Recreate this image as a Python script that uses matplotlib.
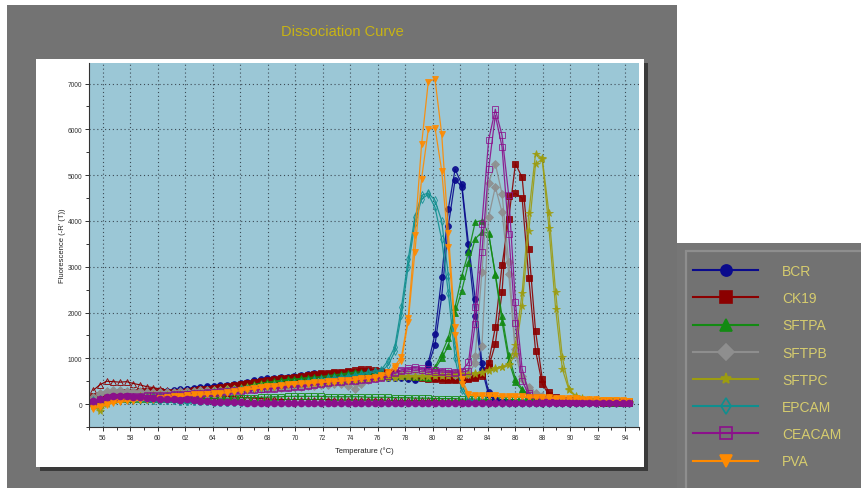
import numpy as np
import matplotlib
matplotlib.use("Agg")
import matplotlib.pyplot as plt
from matplotlib.patches import Rectangle
from matplotlib.lines import Line2D

plt.rcParams["font.family"] = ["Liberation Sans", "DejaVu Sans"]

# melt temperatures, one reading every ~0.49 degC
temps = np.linspace(55.3, 94.3, 81)

# -R'(T) readings per well
bcr_1 = [
    60, 90, 120, 150, 170, 190, 210, 230, 250, 270,
    280, 290, 300, 320, 340, 360, 380, 390, 400, 410,
    420, 440, 460, 490, 520, 540, 560, 580, 590, 600,
    620, 640, 660, 690, 650, 620, 640, 650, 660, 640,
    650, 660, 640, 620, 610, 600, 590, 560, 550, 650,
    900, 1530, 2770, 4270, 5130, 4800, 3500, 2300, 900, 270,
    120, 60, 40, 30, 30, 20, 20, 20, 20, 20,
    20, 20, 20, 20, 20, 20, 20, 20, 20, 20, 20]
bcr_2 = [
    40, 70, 100, 130, 150, 170, 190, 210, 230, 250,
    260, 270, 280, 300, 320, 340, 350, 370, 380, 390,
    400, 420, 440, 470, 500, 510, 530, 550, 560, 580,
    600, 610, 630, 640, 620, 600, 610, 620, 630, 610,
    620, 630, 610, 590, 580, 570, 560, 540, 530, 600,
    850, 1290, 2350, 3900, 4900, 4750, 3320, 1930, 770, 200,
    80, 40, 30, 20, 20, 20, 20, 20, 20, 20,
    20, 20, 20, 20, 20, 20, 20, 20, 20, 20, 20]
ck19_1 = [
    150, 200, 230, 250, 260, 270, 270, 280, 280, 280,
    280, 270, 260, 270, 280, 300, 320, 340, 360, 380,
    400, 420, 440, 460, 480, 500, 520, 540, 560, 580,
    600, 620, 640, 660, 680, 690, 700, 710, 730, 740,
    760, 770, 740, 720, 700, 680, 660, 640, 620, 600,
    580, 570, 560, 550, 550, 560, 570, 600, 650, 900,
    1680, 3030, 4050, 5250, 4950, 3390, 1600, 550, 255, 150,
    100, 80, 70, 60, 50, 50, 40, 40, 40, 30, 30]
ck19_2 = [
    120, 160, 200, 220, 230, 240, 240, 250, 250, 250,
    250, 250, 240, 250, 260, 280, 300, 320, 340, 360,
    380, 400, 420, 440, 460, 480, 500, 520, 540, 560,
    580, 600, 610, 630, 650, 660, 670, 690, 700, 710,
    720, 730, 710, 690, 670, 650, 630, 610, 590, 570,
    550, 540, 530, 520, 520, 530, 540, 560, 620, 800,
    1310, 2440, 4550, 4600, 4500, 2750, 1170, 440, 200, 120,
    80, 60, 50, 50, 40, 40, 30, 30, 30, 30, 30]
sftpa_1 = [
    30, 80, 120, 150, 170, 180, 190, 200, 200, 210,
    210, 220, 230, 240, 250, 260, 280, 290, 300, 310,
    330, 350, 370, 400, 430, 460, 480, 500, 520, 540,
    550, 560, 580, 590, 600, 620, 640, 660, 680, 700,
    700, 690, 680, 680, 670, 660, 650, 640, 620, 600,
    600, 800, 1100, 1450, 2120, 2800, 3320, 3975, 4010, 3720,
    2845, 1930, 1070, 550, 330, 200, 150, 120, 100, 90,
    80, 70, 60, 60, 50, 50, 40, 40, 40, 30, 30]
sftpa_2 = [
    20, 60, 100, 130, 150, 160, 170, 180, 180, 190,
    190, 200, 210, 220, 230, 240, 260, 270, 280, 290,
    310, 330, 350, 380, 410, 440, 460, 480, 500, 520,
    530, 540, 560, 570, 580, 600, 620, 640, 650, 670,
    670, 660, 650, 650, 640, 630, 620, 610, 600, 590,
    580, 770, 1000, 1270, 2000, 2480, 3085, 3610, 3757, 3735,
    2820, 1800, 950, 480, 300, 180, 130, 100, 90, 80,
    70, 60, 50, 50, 40, 40, 40, 30, 30, 30, 30]
sftpb_1 = [
    150, 250, 290, 300, 300, 290, 280, 280, 270, 270,
    270, 270, 270, 280, 280, 290, 300, 300, 310, 310,
    320, 330, 340, 340, 350, 360, 370, 380, 390, 400,
    400, 410, 420, 430, 440, 450, 460, 470, 400, 330,
    450, 550, 600, 620, 640, 650, 660, 670, 680, 680,
    690, 700, 700, 690, 680, 670, 700, 1060, 2880, 4835,
    5250, 4595, 3100, 1200, 620, 365, 250, 180, 140, 120,
    100, 90, 80, 70, 60, 60, 50, 50, 50, 40, 40]
sftpb_2 = [
    120, 220, 260, 270, 270, 260, 250, 250, 240, 240,
    240, 240, 240, 250, 250, 260, 270, 270, 280, 280,
    290, 300, 310, 310, 320, 330, 340, 350, 360, 370,
    370, 380, 390, 400, 410, 420, 430, 440, 450, 460,
    480, 520, 560, 590, 610, 620, 630, 640, 650, 650,
    660, 660, 660, 650, 640, 640, 660, 900, 1260, 4085,
    4740, 4195, 2845, 1100, 550, 330, 220, 160, 130, 110,
    90, 80, 70, 60, 60, 50, 50, 40, 40, 40, 40]
sftpc_1 = [
    -50, -150, 0, 80, 120, 150, 160, 170, 180, 190,
    200, 200, 210, 220, 230, 240, 250, 260, 280, 300,
    320, 340, 360, 380, 400, 410, 420, 430, 440, 450,
    460, 470, 480, 490, 500, 510, 520, 530, 540, 550,
    560, 570, 580, 590, 600, 600, 610, 610, 620, 620,
    620, 630, 630, 640, 650, 650, 660, 680, 700, 740,
    780, 820, 875, 1300, 2430, 4170, 5470, 5375, 4170, 2445,
    1020, 330, 180, 130, 100, 80, 70, 60, 60, 50, 50]
sftpc_2 = [
    -30, -100, 20, 90, 130, 150, 160, 170, 180, 190,
    190, 190, 200, 210, 220, 230, 240, 250, 270, 290,
    300, 320, 340, 360, 380, 390, 400, 410, 420, 430,
    440, 450, 460, 470, 480, 490, 500, 510, 520, 530,
    540, 550, 560, 570, 580, 580, 590, 590, 600, 600,
    600, 610, 610, 620, 630, 630, 640, 660, 680, 720,
    760, 800, 850, 1090, 2150, 3790, 5240, 5350, 3845, 2080,
    766, 300, 160, 120, 90, 70, 60, 50, 50, 40, 40]
epcam_1 = [
    80, 120, 140, 150, 150, 150, 150, 160, 160, 170,
    170, 180, 190, 200, 210, 220, 230, 250, 260, 270,
    290, 300, 320, 340, 360, 380, 400, 420, 430, 450,
    460, 480, 500, 520, 540, 560, 580, 600, 620, 640,
    660, 700, 730, 750, 950, 1250, 2120, 3160, 4085, 4560,
    4610, 4450, 4000, 2800, 1300, 400, 120, 60, 50, 40,
    40, 40, 40, 40, 40, 40, 40, 30, 30, 30,
    30, 30, 30, 30, 30, 30, 30, 30, 30, 30, 30]
epcam_2 = [
    60, 100, 120, 130, 130, 130, 130, 140, 140, 150,
    150, 160, 170, 180, 190, 200, 210, 230, 240, 250,
    270, 280, 300, 320, 340, 360, 380, 400, 410, 430,
    440, 460, 480, 500, 520, 540, 560, 580, 600, 620,
    640, 670, 700, 720, 850, 1150, 1950, 3000, 3950, 4480,
    4580, 4300, 3600, 2420, 1000, 300, 100, 50, 40, 40,
    30, 30, 30, 30, 30, 30, 30, 30, 30, 30,
    30, 30, 30, 30, 30, 30, 30, 30, 30, 30, 30]
ceacam_1 = [
    40, 90, 130, 150, 160, 170, 180, 180, 190, 190,
    200, 200, 210, 220, 230, 240, 250, 260, 270, 280,
    290, 300, 310, 320, 330, 340, 350, 360, 370, 380,
    390, 400, 420, 440, 460, 480, 500, 510, 520, 530,
    540, 550, 560, 600, 650, 700, 750, 780, 800, 780,
    760, 740, 730, 720, 700, 720, 910, 2115, 3940, 5760,
    6440, 5870, 4560, 2225, 770, 250, 150, 120, 100, 90,
    80, 70, 60, 60, 50, 50, 50, 40, 40, 40, 40]
ceacam_2 = [
    30, 70, 110, 130, 140, 150, 160, 160, 170, 170,
    180, 180, 190, 200, 210, 220, 230, 240, 250, 260,
    270, 280, 290, 300, 310, 320, 330, 340, 350, 360,
    370, 380, 400, 420, 440, 460, 480, 490, 500, 510,
    520, 530, 540, 580, 620, 670, 720, 750, 770, 750,
    720, 710, 700, 690, 680, 700, 730, 1750, 3320, 5130,
    6310, 5620, 3720, 1770, 510, 200, 130, 100, 90, 80,
    70, 60, 60, 50, 50, 40, 40, 40, 40, 30, 30]
pva_1 = [
    -80, -40, 0, 40, 60, 80, 90, 100, 110, 120,
    140, 150, 170, 180, 200, 210, 220, 230, 240, 250,
    270, 290, 310, 330, 350, 370, 390, 400, 420, 440,
    450, 460, 470, 480, 490, 500, 510, 520, 530, 540,
    560, 580, 600, 630, 700, 830, 1030, 1880, 3700, 5670,
    7040, 7100, 5900, 3735, 1680, 550, 220, 200, 200, 190,
    190, 180, 180, 170, 170, 160, 160, 150, 150, 140,
    140, 130, 130, 120, 120, 110, 100, 100, 90, 80, 70]
pva_2 = [
    -100, -60, -20, 20, 40, 60, 70, 80, 90, 100,
    120, 130, 150, 160, 180, 190, 200, 210, 220, 230,
    250, 270, 290, 310, 330, 350, 370, 380, 400, 420,
    430, 440, 450, 460, 470, 480, 490, 500, 510, 520,
    540, 560, 580, 610, 650, 780, 950, 1800, 3320, 4920,
    6000, 6040, 5100, 3435, 1500, 450, 200, 180, 180, 170,
    170, 160, 160, 150, 150, 140, 140, 130, 130, 120,
    120, 110, 110, 100, 100, 90, 90, 80, 80, 70, 60]

# no-template wells
ntc_purple = [
    60, 110, 150, 170, 180, 170, 160, 150, 140, 130,
    120, 110, 110, 100, 110, 90, 70, 60, 50, 40,
    40, 40, 40, 30, 30, 30, 30, 30, 30, 30,
    30, 30, 30, 30, 30, 30, 30, 30, 30, 30,
    30, 30, 30, 30, 30, 30, 30, 30, 30, 30,
    20, 20, 20, 20, 20, 20, 20, 20, 20, 20,
    20, 20, 20, 20, 20, 20, 20, 20, 20, 20,
    20, 20, 20, 20, 20, 20, 20, 20, 20, 20, 20]
ntc_teal = [
    0, 40, 70, 90, 100, 100, 90, 80, 80, 70,
    70, 60, 60, 50, 50, 40, 40, 40, 30, 30,
    30, 30, 30, 30, 30, 30, 30, 30, 30, 30,
    30, 30, 30, 30, 30, 30, 30, 30, 30, 30,
    30, 30, 30, 30, 30, 30, 30, 30, 30, 30,
    20, 20, 20, 20, 20, 20, 20, 20, 20, 20,
    20, 20, 20, 20, 20, 20, 20, 20, 20, 20,
    20, 20, 20, 20, 20, 20, 20, 20, 20, 20, 20]
ntc_green = [
    40, 70, 90, 100, 110, 110, 110, 110, 110, 110,
    110, 110, 110, 110, 120, 120, 120, 120, 130, 130,
    130, 130, 140, 140, 140, 150, 150, 160, 160, 170,
    170, 170, 170, 170, 170, 160, 160, 160, 160, 160,
    160, 150, 150, 150, 150, 140, 140, 140, 130, 130,
    130, 120, 120, 120, 120, 110, 110, 110, 110, 100,
    100, 100, 100, 100, 90, 90, 90, 90, 90, 80,
    80, 80, 80, 80, 70, 70, 70, 70, 60, 60, 60]
ntc_red = [
    300, 420, 500, 490, 480, 490, 450, 420, 380, 360,
    330, 310, 290, 270, 250, 230, 210, 200, 190, 180,
    170, 160, 150, 140, 130, 120, 110, 110, 100, 100,
    100, 100, 100, 100, 100, 100, 90, 90, 90, 90,
    90, 90, 90, 90, 80, 80, 80, 80, 80, 80,
    80, 80, 70, 70, 70, 70, 70, 70, 70, 70,
    60, 60, 60, 60, 60, 60, 60, 60, 60, 60,
    50, 50, 50, 50, 50, 50, 50, 50, 50, 50, 50]

genes = ["BCR", "CK19", "SFTPA", "SFTPB", "SFTPC", "EPCAM", "CEACAM", "PVA"]
colors = ["#0a0a8c", "#8b0000", "#138a13", "#8e8e8e", "#9c9c10", "#0f8f8f", "#8b108b", "#ff8a00"]
markers = ["o", "s", "^", "D", "*", "d", "s", "v"]
hollow = [False, False, False, False, False, True, True, False]
wells = [[bcr_1, bcr_2], [ck19_1, ck19_2], [sftpa_1, sftpa_2], [sftpb_1, sftpb_2],
         [sftpc_1, sftpc_2], [epcam_1, epcam_2], [ceacam_1, ceacam_2], [pva_1, pva_2]]

W, H = 862, 489
fig = plt.figure(figsize=(W / 100, H / 100), dpi=100)


def panel(x0, y0, x1, y1, color, z, edge="none", lw=0):
    fig.patches.append(Rectangle((x0 / W, 1 - y1 / H), (x1 - x0) / W, (y1 - y0) / H,
                                 transform=fig.transFigure, facecolor=color,
                                 edgecolor=edge, linewidth=lw, zorder=z))


# gray window, chart card with drop shadow, legend box
panel(7, 6, 677, 489, "#737373", -10)
panel(677, 244, 862, 489, "#767676", -10)
panel(40, 64, 648, 472, "#3a3a3a", -9)
panel(36, 60, 644, 468, "white", -8)
panel(686, 252, 870, 497, "#727272", -7, edge="#8e8e8e", lw=1.6)

fig.text(342 / W, 1 - 32 / H, "Dissociation Curve", color="#c8b414",
         fontsize=10.5, ha="center", va="center")

ax = fig.add_axes([89 / W, 1 - 428 / H, 550 / W, 364 / H])
ax.set_facecolor("#9bc7d6")
ax.set_xlim(55, 95)
ax.set_ylim(-500, 7450)
for s in ["top", "right"]:
    ax.spines[s].set_visible(False)
for s in ["left", "bottom"]:
    ax.spines[s].set_color("#333333")
    ax.spines[s].set_linewidth(0.8)

ax.set_xticks(np.arange(56, 95, 2))
ax.set_xticks(np.arange(55, 96, 2), minor=True)
ax.set_yticks(np.arange(0, 7001, 1000))
ax.set_yticks(np.arange(-500, 7450, 1000), minor=True)
ax.tick_params(which="major", length=3, width=0.7, labelsize=4.8, colors="#333333", pad=2)
ax.tick_params(which="minor", length=2, width=0.7, colors="#333333")
ax.grid(True, which="major", linestyle=(0, (1, 2.5)), color="#3c4a55", linewidth=0.8)
ax.set_axisbelow(True)

ax.set_xlabel("Temperature (°C)", fontsize=5.5, color="#222222")
ax.xaxis.set_label_coords(0.5, -19 / 364)
ax.set_ylabel("Fluorescence (-R' (T))", fontsize=5.5, color="#222222")
ax.yaxis.set_label_coords(-23 / 550, 0.5)

# background wells first
ax.plot(temps, ntc_red, color="#8b0000", marker="^", mfc="none", ms=4.5, lw=0.8, mew=0.6)
ax.plot(temps, ntc_green, color="#138a13", marker="s", mfc="none", ms=4, lw=0.8, mew=0.6)
ax.plot(temps, ntc_teal, color="#0f8f8f", marker="P", ms=4, lw=0.8, mew=0.4)

for gene, col, mk, hol, reps in zip(genes, colors, markers, hollow, wells):
    for vals in reps:
        ax.plot(temps, vals, color=col, marker=mk, lw=0.9, alpha=0.9,
                ms=5.5 if mk == "*" else 4.2, mew=0.6,
                mfc="none" if hol else col)

ax.plot(temps, ntc_purple, color="#8b108b", marker="o", ms=4.5, lw=0.8)

handles = [Line2D([], [], color=c, marker=m, ms=8, lw=1.5,
                  mfc="none" if h else c, mew=1.2)
           for c, m, h in zip(colors, markers, hollow)]
leg = fig.legend(handles, genes, loc="upper left", bbox_to_anchor=(693 / W, 1 - 265 / H),
                 frameon=False, fontsize=10, labelcolor="#d6cc6e", handlelength=4.7,
                 handletextpad=1.7, labelspacing=0.95, borderpad=0, borderaxespad=0)

fig.savefig("out.png", dpi=100, facecolor="white")
